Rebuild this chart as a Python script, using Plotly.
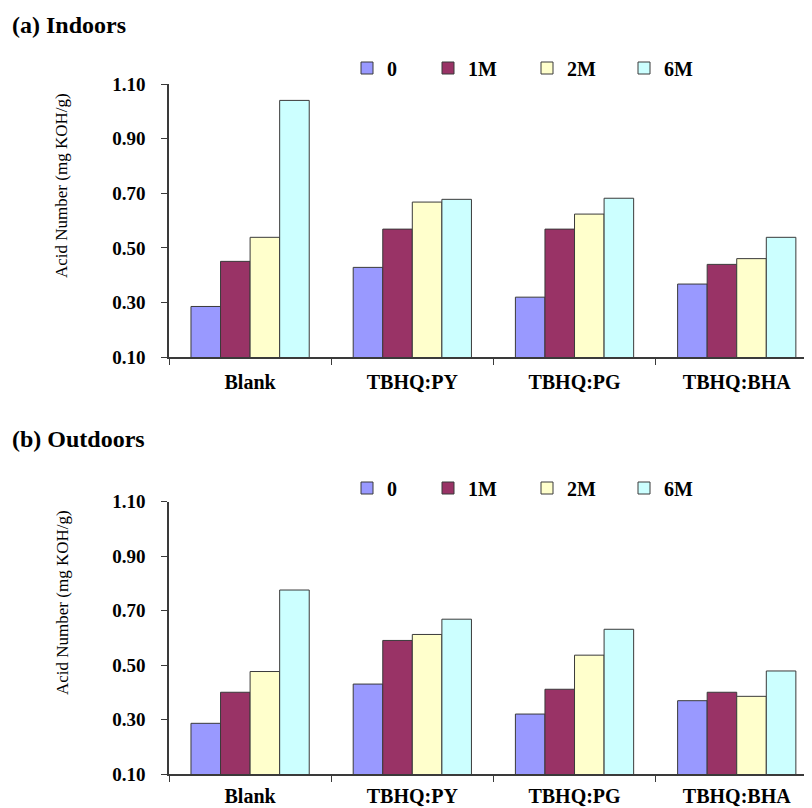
import plotly.graph_objects as go

# ---------------- data ----------------
categories = ["Blank", "TBHQ:PY", "TBHQ:PG", "TBHQ:BHA"]
series_names = ["0", "1M", "2M", "6M"]

indoor_0 = [0.286, 0.429, 0.320, 0.368]
indoor_1M = [0.451, 0.569, 0.569, 0.440]
indoor_2M = [0.539, 0.668, 0.624, 0.461]
indoor_6M = [1.040, 0.678, 0.682, 0.539]

outdoor_0 = [0.287, 0.431, 0.321, 0.370]
outdoor_1M = [0.401, 0.591, 0.412, 0.401]
outdoor_2M = [0.477, 0.613, 0.537, 0.386]
outdoor_6M = [0.776, 0.669, 0.632, 0.479]

y_tick_values = [0.10, 0.30, 0.50, 0.70, 0.90, 1.10]
panel_titles = ["(a) Indoors", "(b) Outdoors"]
y_title = "Acid Number (mg KOH/g)"

indoor = [indoor_0, indoor_1M, indoor_2M, indoor_6M]
outdoor = [outdoor_0, outdoor_1M, outdoor_2M, outdoor_6M]

# ---------------- style ----------------
colors = ["#9999FF", "#993366", "#FFFFCC", "#CCFFFF"]
legend_widths = [36, 54, 52, 52]
SERIF = "Liberation Serif, Times New Roman, serif"
AXC = "#3a3a3a"

# page body has an 8px margin: lay the figure out in window pixels
OFF = 8
W, H = 812 - OFF, 808 - OFF
L = 169 - OFF
PW = W - L


def px_x(p):
    return (p - OFF - L) / PW


def px_y(p):
    return 1 - (p - OFF) / H


fig = go.Figure()

for i, name in enumerate(series_names):
    fig.add_trace(go.Bar(
        x=categories, y=indoor[i], name=name,
        marker=dict(color=colors[i], line=dict(color=AXC, width=1)),
        xaxis="x", yaxis="y", legend="legend",
        legendwidth=legend_widths[i], showlegend=True,
    ))
for i, name in enumerate(series_names):
    fig.add_trace(go.Bar(
        x=categories, y=outdoor[i], name=name,
        marker=dict(color=colors[i], line=dict(color=AXC, width=1)),
        xaxis="x2", yaxis="y2", legend="legend2",
        legendwidth=legend_widths[i], showlegend=True,
    ))

xrange = [-0.5, 3.464]
top_dom = [px_y(357.3), px_y(84)]
bot_dom = [px_y(774.3), px_y(501.7)]

xcommon = dict(
    type="category", range=xrange, tickson="boundaries", ticks="outside",
    ticklen=6, tickwidth=1.3, tickcolor=AXC, showline=True, linecolor=AXC,
    linewidth=1.5, showgrid=False, zeroline=False, automargin=False,
    ticklabelstandoff=6,
    tickfont=dict(family=SERIF, size=20, color="black", weight="bold"),
    domain=[0, 1], fixedrange=True,
)
ycommon = dict(
    range=[0.1, 1.1], tickvals=y_tick_values, tickformat=".2f",
    ticks="outside", ticklen=6, tickwidth=1.3, tickcolor=AXC,
    showline=True, linecolor=AXC, linewidth=1.5, showgrid=False,
    zeroline=False, automargin=False, ticklabelstandoff=12,
    tickfont=dict(family=SERIF, size=19, color="black", weight="bold"),
    fixedrange=True,
)
# overlay axes supply the inner half of the crossing tick marks
x_over = dict(
    range=xrange, tickvals=[-0.5, 0.5, 1.5, 2.5], ticks="inside", ticklen=6,
    tickwidth=1.3, tickcolor=AXC, showticklabels=False, showline=False,
    showgrid=False, zeroline=False, automargin=False, fixedrange=True,
)
y_over = dict(
    range=[0.1, 1.1], tickvals=y_tick_values, ticks="inside", ticklen=6,
    tickwidth=1.3, tickcolor=AXC, showticklabels=False, showline=False,
    showgrid=False, zeroline=False, automargin=False, fixedrange=True,
)

legend_common = dict(
    orientation="h", xanchor="left", yanchor="middle",
    font=dict(family=SERIF, size=20, color="black", weight="bold"),
    bgcolor="rgba(0,0,0,0)", borderwidth=0, itemclick=False,
    itemdoubleclick=False, tracegroupgap=0,
)

annotations = [
    dict(text=panel_titles[0], x=px_x(10), y=px_y(25), xref="paper",
         yref="paper", xanchor="left", yanchor="middle", showarrow=False,
         font=dict(family=SERIF, size=24, color="black", weight="bold")),
    dict(text=panel_titles[1], x=px_x(10), y=px_y(439), xref="paper",
         yref="paper", xanchor="left", yanchor="middle", showarrow=False,
         font=dict(family=SERIF, size=24, color="black", weight="bold")),
    dict(text=y_title, x=px_x(62), y=px_y(185), xref="paper", yref="paper",
         xanchor="center", yanchor="middle", showarrow=False, textangle=-90,
         font=dict(family=SERIF, size=17, color="black")),
    dict(text=y_title, x=px_x(62), y=px_y(602), xref="paper", yref="paper",
         xanchor="center", yanchor="middle", showarrow=False, textangle=-90,
         font=dict(family=SERIF, size=17, color="black")),
]

fig.update_layout(
    width=W, height=H,
    margin=dict(l=L, r=0, t=0, b=0, pad=0),
    paper_bgcolor="white", plot_bgcolor="white",
    barmode="group", bargap=0.271, bargroupgap=0,
    xaxis=dict(xcommon, anchor="y"),
    yaxis=dict(ycommon, domain=top_dom, anchor="x"),
    xaxis2=dict(xcommon, anchor="y2", ticklabelstandoff=3),
    yaxis2=dict(ycommon, domain=bot_dom, anchor="x2"),
    xaxis3=dict(x_over, overlaying="x", anchor="y"),
    yaxis3=dict(y_over, overlaying="y", anchor="x"),
    xaxis4=dict(x_over, overlaying="x2", anchor="y2"),
    yaxis4=dict(y_over, overlaying="y2", anchor="x2"),
    legend=dict(legend_common, x=px_x(347), y=px_y(68)),
    legend2=dict(legend_common, x=px_x(347), y=px_y(488)),
    annotations=annotations,
    showlegend=True,
)

fig.write_html("out.html")
